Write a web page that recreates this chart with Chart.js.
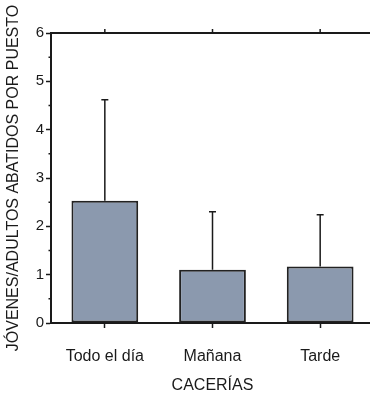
<!DOCTYPE html>
<html>
<head>
<meta charset="utf-8">
<script src="https://cdn.jsdelivr.net/npm/chart.js@4"></script>
<style>
  html, body { margin: 0; padding: 0; background: #fff; overflow: hidden; }
  #wrap { width: 370px; height: 393px; overflow: hidden; position: relative; }
  canvas { position: absolute; left: 0; top: 0; }
</style>
</head>
<body>
<div id="wrap"><canvas id="c" width="374" height="393"></canvas></div>
<script>
// Hunting sessions and young/adult birds shot per stand (mean + SD)
const categories = ['Todo el día', 'Mañana', 'Tarde'];
const means = [2.53, 1.10, 1.17];
const sds = [2.09, 1.20, 1.07];
const yTicks = [0, 1, 2, 3, 4, 5, 6];

const FONT = "'Liberation Sans', Arial, sans-serif";
const INK = '#1a1a1a';

// Upper error whiskers with a short cap
const errorBars = {
  id: 'errorBars',
  afterDatasetsDraw(chart) {
    const { ctx, scales: { y } } = chart;
    const meta = chart.getDatasetMeta(0);
    ctx.save();
    ctx.strokeStyle = INK;
    ctx.lineWidth = 1.5;
    meta.data.forEach((bar, i) => {
      const top = y.getPixelForValue(means[i] + sds[i]);
      const base = y.getPixelForValue(means[i]);
      ctx.beginPath();
      ctx.moveTo(bar.x, base);
      ctx.lineTo(bar.x, top);
      ctx.moveTo(bar.x - 3.5, top);
      ctx.lineTo(bar.x + 3.5, top);
      ctx.stroke();
    });
    ctx.restore();
  }
};

// Top frame line with outward category ticks, plus minor y ticks
const frame = {
  id: 'frame',
  afterDraw(chart) {
    const { ctx, chartArea: a, scales: { x, y } } = chart;
    ctx.save();
    ctx.strokeStyle = INK;
    ctx.lineWidth = 2;
    ctx.beginPath();
    ctx.moveTo(a.left - 1, a.top);
    ctx.lineTo(a.right + 2, a.top);
    ctx.stroke();
    ctx.lineWidth = 1.5;
    ctx.beginPath();
    categories.forEach((_, i) => {
      const px = x.getPixelForValue(i);
      ctx.moveTo(px, a.top);
      ctx.lineTo(px, a.top - 4);
    });
    for (let v = 0.5; v < 6; v += 1) {
      const py = y.getPixelForValue(v);
      ctx.moveTo(a.left, py);
      ctx.lineTo(a.left - 2.5, py);
    }
    ctx.stroke();
    ctx.restore();
  }
};

new Chart(document.getElementById('c'), {
  type: 'bar',
  data: {
    labels: categories,
    datasets: [{
      data: means,
      backgroundColor: '#8b99ae',
      borderColor: '#222222',
      borderWidth: 2,
      borderSkipped: false,
      categoryPercentage: 1,
      barPercentage: 0.62
    }]
  },
  options: {
    responsive: false,
    animation: false,
    devicePixelRatio: 1,
    layout: { padding: { top: 33, left: 0, right: 0, bottom: 0 } },
    plugins: { legend: { display: false }, tooltip: { enabled: false } },
    scales: {
      x: {
        offset: true,
        afterFit: s => { s.height = 70; },
        border: { display: true, color: INK, width: 2 },
        grid: { drawOnChartArea: false, drawTicks: true, tickLength: 5, tickWidth: 1.5, tickColor: INK, offset: false },
        ticks: { color: INK, font: { family: FONT, size: 16 }, padding: 19, maxRotation: 0 },
        title: { display: true, text: 'CACERÍAS', color: INK, font: { family: FONT, size: 16 }, padding: { top: 0, bottom: -2 } }
      },
      y: {
        min: 0,
        max: 6,
        afterFit: s => { s.width = 51; },
        afterBuildTicks: s => { s.ticks = yTicks.map(v => ({ value: v })); },
        border: { display: true, color: INK, width: 2 },
        grid: { drawOnChartArea: false, drawTicks: true, tickLength: 5, tickWidth: 1.5, tickColor: INK },
        ticks: { color: INK, font: { family: FONT, size: 15 }, padding: 2, stepSize: 1 },
        title: { display: true, text: 'JÓVENES/ADULTOS ABATIDOS POR PUESTO', color: INK, font: { family: FONT, size: 16 }, padding: { top: 4, bottom: 0 } }
      }
    }
  },
  plugins: [errorBars, frame]
});
</script>
</body>
</html>
